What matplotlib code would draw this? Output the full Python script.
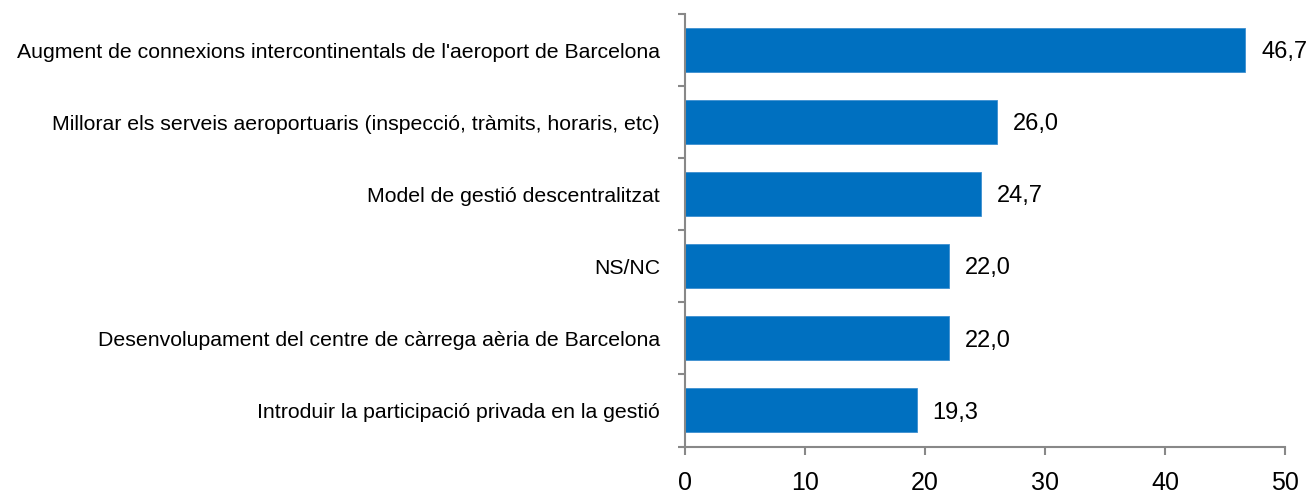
import matplotlib.pyplot as plt

# Dades del gràfic
categories = [
    "Augment de connexions intercontinentals de l'aeroport de Barcelona",
    "Millorar els serveis aeroportuaris (inspecció, tràmits, horaris, etc)",
    "Model de gestió descentralitzat",
    "NS/NC",
    "Desenvolupament del centre de càrrega aèria de Barcelona",
    "Introduir la participació privada en la gestió",
]
values = [46.7, 26.0, 24.7, 22.0, 22.0, 19.3]
xticks = [0, 10, 20, 30, 40, 50]

plt.rcParams['font.family'] = ['Liberation Sans', 'DejaVu Sans']

fig = plt.figure(figsize=(13.11, 4.99), dpi=100)
ax = fig.add_axes([685 / 1311, (499 - 446.5) / 499, 600 / 1311, 432.5 / 499])

n = len(categories)
pos = list(range(n))[::-1]
ax.barh(pos, values, height=0.61, color='#0070C0', edgecolor='#3d8fd0', linewidth=0.6)

for p, v in zip(pos, values):
    ax.text(v + 1.3, p - 0.03, f"{v:.1f}".replace('.', ','), va='center', ha='left',
            fontsize=17, color='black')

ax.set_xlim(0, 50)
ax.set_ylim(-0.5, n - 0.5)
ax.set_xticks(xticks)
ax.set_xticklabels([str(t) for t in xticks], fontsize=18)

# ticks majors entre categories, etiquetes al mig
ax.set_yticks([i - 0.5 for i in range(n + 1)])
ax.set_yticklabels([])
ax.set_yticks(pos, minor=True)
ax.set_yticklabels(categories, minor=True, fontsize=15.3)
ax.tick_params(axis='y', which='minor', length=0, pad=18)
ax.tick_params(axis='y', which='major', length=5, color='#888888', width=1.5)
ax.tick_params(axis='x', length=6, color='#888888', width=1.5, pad=12)

for s in ['top', 'right']:
    ax.spines[s].set_visible(False)
for s in ['left', 'bottom']:
    ax.spines[s].set_color('#888888')
    ax.spines[s].set_linewidth(1.5)

fig.savefig('out.png', dpi=100)
